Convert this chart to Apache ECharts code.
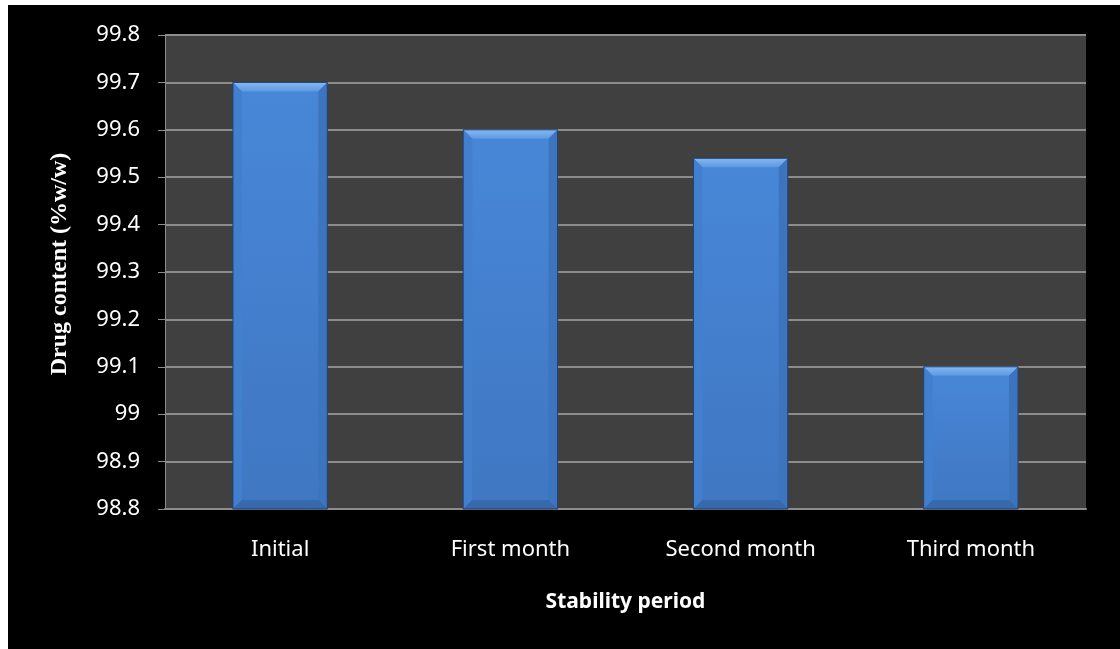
<!DOCTYPE html>
<html>
<head>
<meta charset="utf-8">
<script src="https://cdn.jsdelivr.net/npm/echarts@6/dist/echarts.min.js"></script>
<style>
html,body{margin:0;padding:0;background:#fff;}
#chart{width:1120px;height:649px;}
</style>
</head>
<body>
<div id="chart"></div>
<script>
const categories = ['Initial', 'First month', 'Second month', 'Third month'];
const drugContent = [99.70, 99.60, 99.54, 99.10];
const yMin = 98.8, yMax = 99.8, yStep = 0.1;
const yTitle = 'Drug content (%w/w)';
const xTitle = 'Stability period';

const chart = echarts.init(document.getElementById('chart'));

function renderBar(params, api) {
  const idx = api.value(0);
  const v = api.value(1);
  const top = api.coord([idx, v]);
  const bot = api.coord([idx, yMin]);
  const bw = api.size([1, 0])[0] * 0.41;
  const x0 = top[0] - bw / 2, x1 = top[0] + bw / 2;
  const y0 = top[1], y1 = bot[1];
  const b = 9;
  return {
    type: 'group',
    children: [
      { type: 'rect', shape: { x: x0, y: y0, width: bw, height: y1 - y0 },
        style: { fill: new echarts.graphic.LinearGradient(0, 0, 0, 1, [
          { offset: 0, color: '#4887d8' }, { offset: 1, color: '#3f77c2' }]) } },
      { type: 'polygon', shape: { points: [[x0, y0], [x1, y0], [x1 - b, y0 + b], [x0 + b, y0 + b]] },
        style: { fill: new echarts.graphic.LinearGradient(0, 0, 0, 1, [
          { offset: 0, color: '#84b8f2' }, { offset: 1, color: '#5d98e0' }]) } },
      { type: 'polygon', shape: { points: [[x0, y0], [x0 + b, y0 + b], [x0 + b, y1 - b], [x0, y1]] },
        style: { fill: '#4280cf' } },
      { type: 'polygon', shape: { points: [[x1, y0], [x1 - b, y0 + b], [x1 - b, y1 - b], [x1, y1]] },
        style: { fill: '#3c74bd' } },
      { type: 'polygon', shape: { points: [[x0, y1], [x0 + b, y1 - b], [x1 - b, y1 - b], [x1, y1]] },
        style: { fill: '#3669ad' } },
      { type: 'rect', shape: { x: x0, y: y0, width: bw, height: y1 - y0 },
        style: { fill: 'none', stroke: '#203f6b', lineWidth: 1 } }
    ]
  };
}

const option = {
  backgroundColor: '#ffffff',
  animation: false,
  graphic: [{ type: 'rect', left: 8, top: 5, shape: { width: 1112, height: 644 }, style: { fill: '#000000' }, z: -10 }],
  grid: { left: 165, right: 34, top: 35, bottom: 140, show: true, backgroundColor: '#404040', borderWidth: 0 },
  xAxis: {
    type: 'category', data: categories,
    name: xTitle, nameLocation: 'middle', nameGap: 83,
    nameTextStyle: { color: '#fff', fontFamily: 'Noto Sans', fontWeight: 'bold', fontSize: 21 },
    axisLine: { lineStyle: { color: '#8c8c8c', width: 2 } },
    axisTick: { show: false },
    axisLabel: { color: '#fff', fontFamily: 'Noto Sans', fontSize: 22, margin: 30 },
    splitLine: { show: false }
  },
  yAxis: {
    type: 'value', min: yMin, max: yMax, interval: yStep,
    name: yTitle, nameLocation: 'middle', nameGap: 93,
    nameTextStyle: { color: '#fff', fontFamily: 'Liberation Serif', fontWeight: 'bold', fontSize: 24, padding: [0, 0, 0, 16] },
    axisLine: { show: true, lineStyle: { color: '#8c8c8c', width: 1 } },
    axisTick: { show: true, inside: false, length: 7, lineStyle: { color: '#8c8c8c', width: 1 } },
    axisLabel: { color: '#fff', fontFamily: 'Noto Sans', fontSize: 22, margin: 25,
      formatter: v => String(parseFloat(v.toFixed(1))) },
    splitLine: { show: true, lineStyle: { color: '#8c8c8c', width: 2 } }
  },
  series: [{
    type: 'custom',
    renderItem: renderBar,
    encode: { x: 0, y: 1 },
    data: drugContent.map((v, i) => [i, v]),
    z: 5
  }]
};
chart.setOption(option);
</script>
</body>
</html>
